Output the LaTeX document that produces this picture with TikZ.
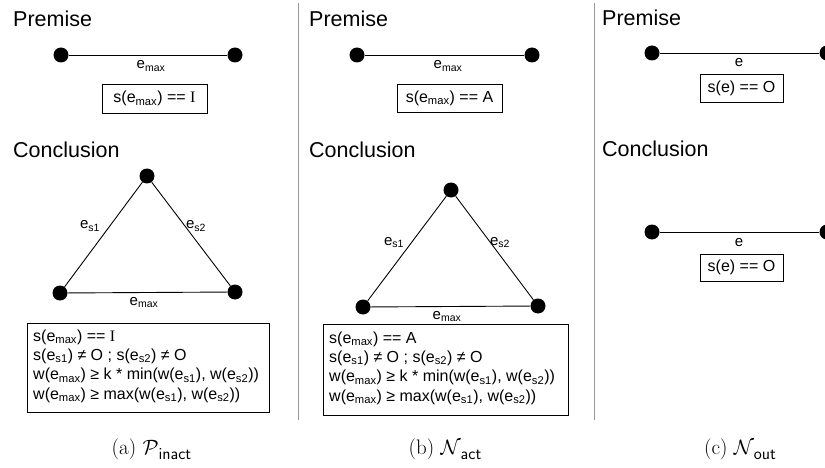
\documentclass[tikz,border=0pt]{standalone}
\usepackage{fontspec}
\newfontfamily\arialf{Liberation Sans}
\newfontfamily\timesf{Liberation Serif}
\newcommand{\emx}{e\textsubscript{max}}
\newcommand{\esa}{e\textsubscript{s1}}
\newcommand{\esb}{e\textsubscript{s2}}
\newcommand{\capsub}[1]{\raisebox{-5pt}{\fontsize{17}{18}\sffamily #1}}
\begin{document}
\begin{tikzpicture}[x=1pt,y=-1pt,
  dot/.style={circle,fill=black,inner sep=0pt,minimum size=15pt},
  edge/.style={line width=0.9pt},
  head/.style={anchor=base west,inner sep=0pt,font=\arialf\fontsize{21.5}{24}\selectfont},
  lab/.style={anchor=base,inner sep=0pt,font=\arialf\fontsize{15}{18}\selectfont},
  cbox/.style={draw,line width=0.9pt,inner sep=0pt,font=\arialf\fontsize{16}{18}\selectfont},
  rframe/.style={draw,line width=0.9pt,inner sep=0pt},
  rtext/.style={anchor=base west,inner sep=0pt,align=left,font=\arialf\fontsize{16}{19.3}\selectfont},
  captext/.style={anchor=base,inner sep=0pt,font=\fontsize{21}{24}\selectfont},
  divider/.style={draw=black!40,line width=1pt}]
\useasboundingbox (0,0) rectangle (825,468);
% dividers
\coordinate (d1t) at (298,3); \coordinate (d1b) at (298,420);
\coordinate (d2t) at (594,3); \coordinate (d2b) at (594,420);
\draw[divider] (d1t) -- (d1b);
\draw[divider] (d2t) -- (d2b);
% ---------- panel a ----------
\node[head] (aP) at (13,27) {Premise};
\node[dot] (a1) at (61,55) {};
\node[dot] (a2) at (235,55) {};
\draw[edge] (a1) -- (a2);
\node[lab] (ae) at (151,69) {\emx};
\node[cbox,minimum width=105pt,minimum height=29pt] (ab) at (154.5,98.5) {s(\emx) == {\timesf I}};
\node[head] (aC) at (13,158) {Conclusion};
\node[dot] (at) at (147,176) {};
\node[dot] (al) at (60,293) {};
\node[dot] (ar) at (235,292) {};
\draw[edge] (al) -- (at) -- (ar) -- (al);
\node[lab] (aes1) at (90,229) {\esa};
\node[lab] (aes2) at (196,229) {\esb};
\node[lab] (aem) at (144,305) {\emx};
\node[rframe,minimum width=242pt,minimum height=89pt] (arb) at (148,367.5) {};
\node[rtext] (art) at (33,399)
 {s(\emx) == {\timesf I}\\ s(\esa) ≠ O ; s(\esb) ≠ O\\ w(\emx) ≥ k * min(w(\esa), w(\esb))\\ w(\emx) ≥ max(w(\esa), w(\esb))};
\node[captext] (acap) at (151.5,454) {(a) $\mathcal{P}$\capsub{inact}};
% ---------- panel b ----------
\node[head] (bP) at (309,27) {Premise};
\node[dot] (b1) at (357,55) {};
\node[dot] (b2) at (532,55) {};
\draw[edge] (b1) -- (b2);
\node[lab] (be) at (448,69) {\emx};
\node[cbox,minimum width=105pt,minimum height=28pt] (bb) at (449.5,98) {s(\emx) == A};
\node[head] (bC) at (309,158) {Conclusion};
\node[dot] (bt) at (451,190) {};
\node[dot] (bl) at (363,307) {};
\node[dot] (br) at (538,306) {};
\draw[edge] (bl) -- (bt) -- (br) -- (bl);
\node[lab] (bes1) at (394,245) {\esa};
\node[lab] (bes2) at (500,245) {\esb};
\node[lab] (bem) at (447,319) {\emx};
\node[rframe,minimum width=245pt,minimum height=91pt] (brb) at (445.5,369.5) {};
\node[rtext] (brt) at (329,401)
 {s(\emx) == A\\ s(\esa) ≠ O ; s(\esb) ≠ O\\ w(\emx) ≥ k * min(w(\esa), w(\esb))\\ w(\emx) ≥ max(w(\esa), w(\esb))};
\node[captext] (bcap) at (445,454) {(b) $\mathcal{N}$\capsub{act}};
% ---------- panel c ----------
\node[head] (cP) at (602,26) {Premise};
\node[dot] (c1) at (652,53) {};
\node[dot] (c2) at (827,53) {};
\draw[edge] (c1) -- (c2);
\node[lab] (ce) at (739,67) {e};
\node[cbox,minimum width=83pt,minimum height=28pt] (cb) at (741.5,88) {s(e) == O};
\node[head] (cC) at (602,157) {Conclusion};
\node[dot] (c3) at (652,232) {};
\node[dot] (c4) at (827,232) {};
\draw[edge] (c3) -- (c4);
\node[lab] (ce2) at (739,246) {e};
\node[cbox,minimum width=83pt,minimum height=27pt] (cb2) at (741.5,267.5) {s(e) == O};
\node[captext] (ccap) at (740,454) {(c) $\mathcal{N}$\capsub{out}};
\end{tikzpicture}
\end{document}
